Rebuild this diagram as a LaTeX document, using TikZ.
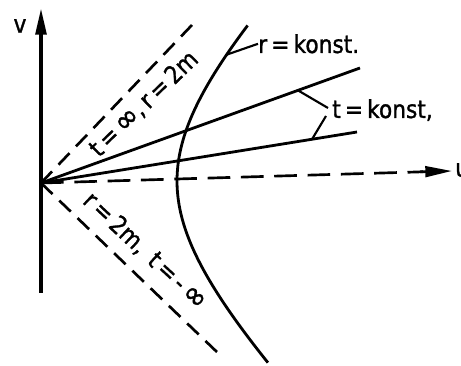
\documentclass[tikz,border=0pt]{standalone}
\usepackage{fontspec}
\setmainfont{DejaVu Sans}[FakeStretch=0.88,FakeBold=1.2]
\usetikzlibrary{arrows.meta}
\newcommand{\infsym}{\raisebox{-0.05em}{\scalebox{1.3}{∞}}}
\begin{document}
\begin{tikzpicture}[x=0.75pt,y=-0.75pt,
  axisline/.style={line width=2.8pt},
  solidline/.style={line width=2.1pt},
  dashline/.style={line width=2.0pt,dash pattern=on 12pt off 7pt},
  hdash/.style={line width=2.0pt,dash pattern=on 17pt off 8pt},
  leader/.style={line width=1.6pt},
  lbl/.style={inner sep=0pt,font=\fontsize{18.5}{21}\selectfont},
  tip/.style={-{Triangle[length=20pt,width=8pt]}}]
\useasboundingbox (0,0) rectangle (461,366);
% points
\coordinate (O) at (41,183);
\coordinate (vbot) at (41,293);
\coordinate (vtop) at (41,8);
\coordinate (utip) at (452,171);
\coordinate (hend) at (423,171.8);
\coordinate (hstart) at (420,171.8);
\coordinate (d1) at (192,25);
\coordinate (d2) at (218,353);
\coordinate (t1) at (360,68);
\coordinate (t2) at (357,132);
% axes
\draw[axisline,tip] (vbot) -- (vtop);
\draw[hdash] (O) -- (hend);
\draw[line width=2pt,tip] (hstart) -- (utip);
\node[lbl,anchor=center] (v) at (20,26) {v};
\node[lbl,anchor=west] (u) at (455,170) {u};
% light-cone lines
\draw[dashline] (O) -- (d1);
\draw[dashline] (O) -- (d2);
% t = konst lines
\draw[solidline] (O) -- (t1);
\draw[solidline] (O) -- (t2);
% r = konst hyperbola
\draw[solidline] plot[domain=-1.1:0.98,samples=80,variable=\s]
  ({41+136*cosh(\s)},{181-136*sinh(\s)});
% labels
\node[lbl,anchor=base west] (rk) at (258,53) {r\,=\,konst.};
\node[lbl,anchor=base west] (tk) at (332,118) {t\,=\,konst,};
\coordinate (rc) at (226.6,54.7);
\coordinate (p1) at (298,90.4);
\coordinate (p2) at (312,139.3);
\coordinate (q1) at (328,108);
\coordinate (q2) at (326,116);
\draw[leader] (rc) -- (rk.west);
\draw[leader] (p1) -- (q1);
\draw[leader] (p2) -- (q2);
\node[lbl,rotate=44] (lu) at (144,104) {t\,=\,\infsym,\,r\,=\,2m};
\node[lbl,rotate=-43] (ll) at (145,251) {r\,=\,2m,\, t\,=\,-\,\infsym};
\end{tikzpicture}
\end{document}
